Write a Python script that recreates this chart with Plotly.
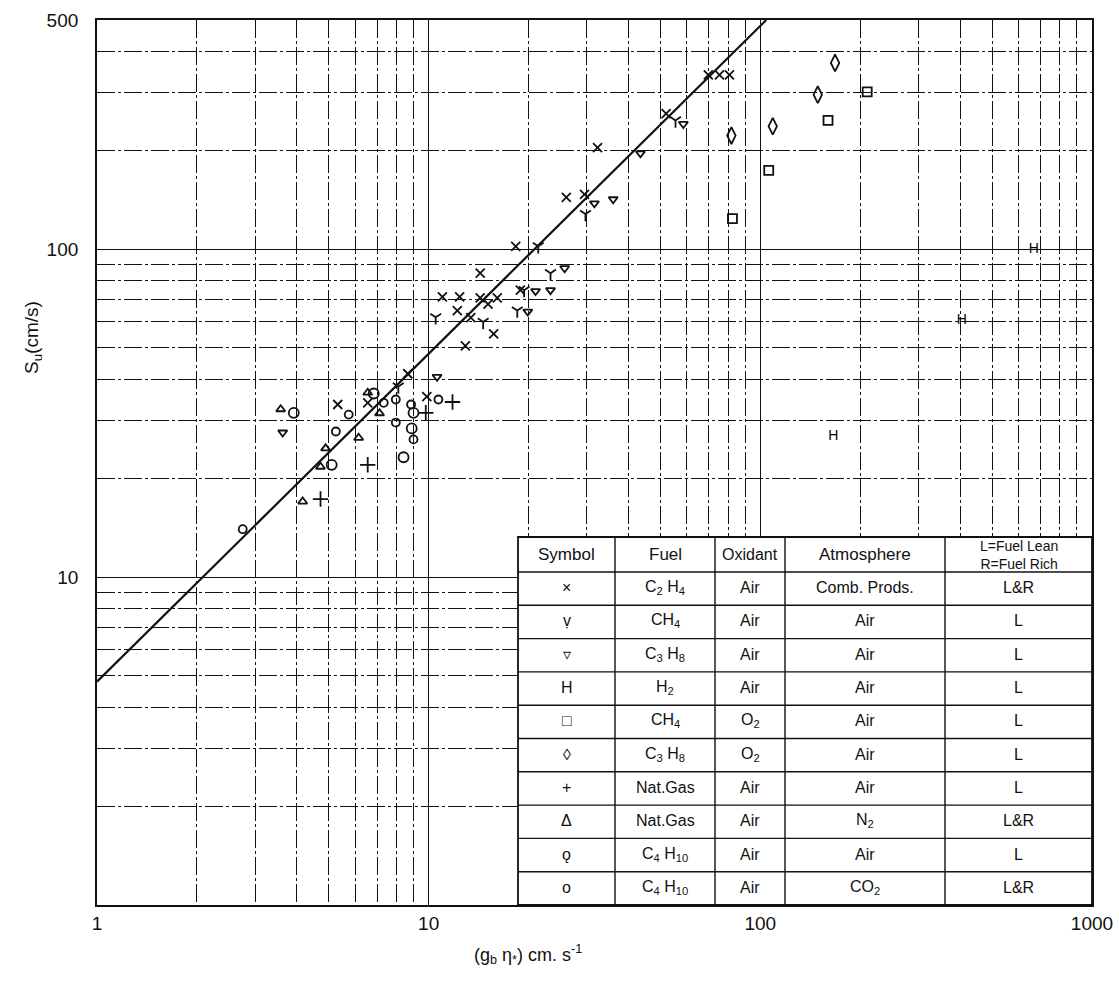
import plotly.graph_objects as go

# ---------------- data ----------------
fit_x = [1.0, 104.2]
fit_y = [4.8, 500.0]

c2h4_air_comb_x = [69.7, 75.3, 80.7, 52, 32.3, 26, 29.5, 18.3, 14.3, 11, 12.4, 14.3, 15.1, 18.9, 12.2, 13.4, 12.9, 15.7, 8.65, 9.87, 5.32, 6.55, 16.1]
c2h4_air_comb_y = [340, 340, 340, 259, 204, 144, 147, 102, 84.5, 71.5, 71.5, 71, 68, 75, 65, 61.8, 50.7, 55.2, 41.7, 35.5, 33.6, 34, 71]

ch4_air_x = [29.7, 23.3, 19.4, 21.4, 18.5, 10.5, 14.6, 55.5, 8.1]
ch4_air_y = [128, 84.5, 75, 102, 65, 62, 60, 247, 38.1]

c3h8_air_x = [31.6, 36, 43.5, 58.6, 21, 23.3, 25.7, 19.9, 10.6, 3.63]
c3h8_air_y = [138, 142, 196, 241, 74.5, 75, 87.5, 64.5, 40.8, 27.6]

h2_air_x = [668, 405, 166]
h2_air_y = [100, 60.4, 26.8]

ch4_o2_x = [210, 160, 106, 82.4]
ch4_o2_y = [302, 247, 174, 124]

c3h8_o2_x = [168, 149, 109, 81.8]
c3h8_o2_y = [370, 296, 237, 222]

natgas_air_x = [11.8, 9.8, 6.55, 4.72]
natgas_air_y = [34.2, 31.7, 22.0, 17.3]

natgas_n2_x = [3.58, 6.55, 7.11, 4.89, 6.15, 4.72, 4.17]
natgas_n2_y = [32.5, 36.5, 31.6, 24.7, 26.6, 21.7, 17.0]

c4h10_air_x = [5.74, 7.32, 7.96, 8.85, 7.96, 9.0, 5.25, 2.75, 10.7]
c4h10_air_y = [31.3, 34.0, 34.8, 33.6, 29.6, 26.3, 27.8, 14.0, 34.8]

c4h10_co2_x = [3.92, 6.83, 9.0, 8.89, 8.4, 5.1]
c4h10_co2_y = [31.7, 36.3, 31.7, 28.4, 23.2, 22.0]

x_tick_vals = [1, 10, 100, 1000]
x_tick_text = ["1", "10", "100", "1000"]
y_tick_vals = [10, 100, 500]
y_tick_text = ["10", "100", "500"]

table_header = ["Symbol", "Fuel", "Oxidant", "Atmosphere", "L=Fuel Lean<br>R=Fuel Rich"]
table_symbols = ["×", "ṿ", "▿", "H", "□", "◊", "+", "Δ", "ǫ", "o"]
table_fuel = ["C<sub>2</sub> H<sub>4</sub>", "CH<sub>4</sub>", "C<sub>3</sub> H<sub>8</sub>", "H<sub>2</sub>",
              "CH<sub>4</sub>", "C<sub>3</sub> H<sub>8</sub>", "Nat.Gas", "Nat.Gas",
              "C<sub>4</sub> H<sub>10</sub>", "C<sub>4</sub> H<sub>10</sub>"]
table_oxidant = ["Air", "Air", "Air", "Air", "O<sub>2</sub>", "O<sub>2</sub>", "Air", "Air", "Air", "Air"]
table_atmos = ["Comb. Prods.", "Air", "Air", "Air", "Air", "Air", "Air", "N<sub>2</sub>", "Air", "CO<sub>2</sub>"]
table_lr = ["L&R", "L", "L", "L", "L", "L", "L", "L&R", "L", "L&R"]

# ---------------- figure ----------------
W, H = 1119, 983
L, R, T, B = 97, 1092, 20, 905
FONT = "Liberation Sans"
INK = "#111111"


def px(xp):
    return (xp - L) / (R - L)


def py(yp):
    return 1 - (yp - T) / (B - T)


fig = go.Figure()

fig.add_trace(go.Scatter(x=fit_x, y=fit_y, mode="lines",
                         line=dict(color=INK, width=2.2), showlegend=False,
                         hoverinfo="skip"))

marker_series = [
    (c2h4_air_comb_x, c2h4_air_comb_y, "x-thin-open", 9),
    (ch4_air_x, ch4_air_y, "y-down-open", 9),
    (c3h8_air_x, c3h8_air_y, "triangle-down-open", 8),
    (ch4_o2_x, ch4_o2_y, "square-open", 9),
    (c3h8_o2_x, c3h8_o2_y, "diamond-tall-open", 12),
    (natgas_air_x, natgas_air_y, "cross-thin-open", 11),
    (natgas_n2_x, natgas_n2_y, "triangle-up-open", 8),
    (c4h10_air_x, c4h10_air_y, "circle-open", 8),
    (c4h10_co2_x, c4h10_co2_y, "circle-open", 10),
]
for xs, ys, sym, size in marker_series:
    fig.add_trace(go.Scatter(x=xs, y=ys, mode="markers", showlegend=False,
                             marker=dict(symbol=sym, size=size, color=INK,
                                         line=dict(color=INK, width=1.8))))

fig.add_trace(go.Scatter(x=h2_air_x, y=h2_air_y, mode="text", text=["H"] * len(h2_air_x),
                         textfont=dict(family=FONT, size=14, color="#000000"), showlegend=False))

minor_x = [k * 10 ** d for d in range(3) for k in range(2, 10)]
minor_y = [k * 10 ** d for d in range(3) for k in range(2, 10) if k * 10 ** d < 500]

grid_dash = "18px,3px,3px,3px"

fig.update_xaxes(type="log", range=[0, 3], tickvals=x_tick_vals, ticktext=x_tick_text,
                 ticks="", showline=True, mirror=True, linecolor=INK, linewidth=1.8,
                 showgrid=True, gridcolor=INK, gridwidth=1.4, automargin=False,
                 minor=dict(tickvals=minor_x, showgrid=True, gridcolor=INK, gridwidth=1.4,
                            griddash=grid_dash, ticks=""),
                 tickfont=dict(family=FONT, size=19, color=INK), zeroline=False,
                 ticklabelstandoff=0)
fig.update_yaxes(type="log", range=[0, 2.69897], tickvals=y_tick_vals, ticktext=y_tick_text,
                 ticks="", showline=True, mirror=True, linecolor=INK, linewidth=1.8,
                 showgrid=True, gridcolor=INK, gridwidth=1.4, automargin=False,
                 minor=dict(tickvals=minor_y, showgrid=True, gridcolor=INK, gridwidth=1.4,
                            griddash=grid_dash, ticks=""),
                 tickfont=dict(family=FONT, size=19, color=INK), zeroline=False,
                 ticklabelstandoff=13)

shapes = []
annotations = []

# table geometry (pixels)
col_edges = [518, 615, 715, 785, 945, R]
tab_top = 537
head_bot = 572
n_rows = len(table_fuel)
row_h = (B - head_bot) / n_rows
row_edges = [head_bot + i * row_h for i in range(n_rows + 1)]

shapes.append(dict(type="rect", xref="paper", yref="paper", x0=px(col_edges[0]), x1=px(col_edges[-1]),
                   y0=py(B), y1=py(tab_top), fillcolor="white", line=dict(color=INK, width=1.8),
                   layer="above"))
for xe in col_edges[1:-1]:
    shapes.append(dict(type="line", xref="paper", yref="paper", x0=px(xe), x1=px(xe),
                       y0=py(B), y1=py(tab_top), line=dict(color=INK, width=1.4), layer="above"))
for ye in row_edges[:-1]:
    shapes.append(dict(type="line", xref="paper", yref="paper", x0=px(col_edges[0]), x1=px(col_edges[-1]),
                       y0=py(ye), y1=py(ye), line=dict(color=INK, width=1.4), layer="above"))

centers = [(col_edges[i] + col_edges[i + 1]) / 2 for i in range(5)]
head_c = (tab_top + head_bot) / 2
head_sizes = [17, 17, 16, 17, 14]
for i, h in enumerate(table_header):
    annotations.append(dict(xref="paper", yref="paper", x=px(centers[i]), y=py(head_c),
                            text=h, showarrow=False, xanchor="center", yanchor="middle",
                            font=dict(family=FONT, size=head_sizes[i], color=INK)))

cols = [table_symbols, table_fuel, table_oxidant, table_atmos, table_lr]
for r in range(n_rows):
    yc = (row_edges[r] + row_edges[r + 1]) / 2 - 1
    for c in range(5):
        annotations.append(dict(xref="paper", yref="paper", x=px(centers[c]), y=py(yc),
                                text=cols[c][r], showarrow=False, xanchor="center", yanchor="middle",
                                font=dict(family=FONT, size=16, color=INK)))

annotations.append(dict(xref="paper", yref="paper", x=px(33), y=py(338),
                        text="S<sub>u</sub>(cm/s)", textangle=-90, showarrow=False,
                        xanchor="center", yanchor="middle",
                        font=dict(family=FONT, size=19, color=INK)))
annotations.append(dict(xref="paper", yref="paper", x=px(528), y=py(955),
                        text="(g<sub>b</sub> η<sub>*</sub>) cm. s<sup>-1</sup>", showarrow=False,
                        xanchor="center", yanchor="middle",
                        font=dict(family=FONT, size=18, color=INK)))

fig.update_layout(width=W, height=H, margin=dict(l=L, r=W - R, t=T, b=H - B),
                  paper_bgcolor="white", plot_bgcolor="white", showlegend=False,
                  shapes=shapes, annotations=annotations,
                  font=dict(family=FONT, color=INK))

fig.write_html("out.html")
